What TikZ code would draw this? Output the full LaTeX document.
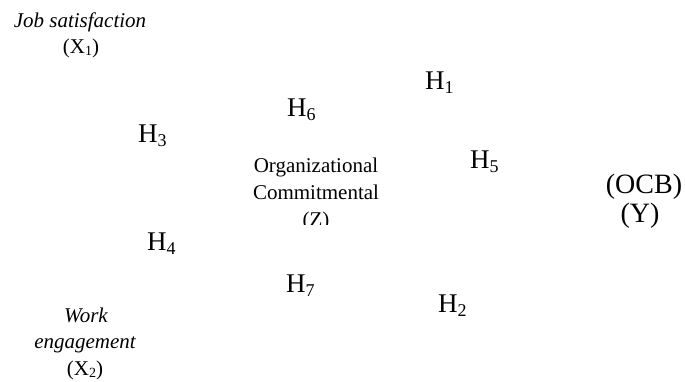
\documentclass[tikz,border=0pt]{standalone}
\usepackage{fontspec}
\setmainfont{Liberation Serif}
\newcommand{\bigsub}[1]{\raisebox{-0.15em}{\fontsize{18}{18}\selectfont #1}}
\newcommand{\smallsub}[1]{\raisebox{-0.12em}{\fontsize{14}{14}\selectfont #1}}
\tikzset{
  hyp/.style={anchor=base west, inner sep=0pt, font=\fontsize{27}{29}\selectfont},
  varsmall/.style={anchor=base, inner sep=0pt, align=center, font=\fontsize{21}{26.5}\selectfont},
  varbig/.style={anchor=base, inner sep=0pt, align=center, font=\fontsize{28}{29}\selectfont},
}
\begin{document}
\begin{tikzpicture}[x=1pt,y=1pt]
  \useasboundingbox (0,0) rectangle (685,-381);

  % exogenous variables
  \node[varsmall] (x1a) at (80,-27) {\itshape Job satisfaction};
  \node[varsmall] (x1b) at (81,-53) {(X\smallsub{1})};
  \node[varsmall] (x2a) at (86,-322) {\itshape Work};
  \node[varsmall] (x2b) at (85,-348) {\itshape engagement};
  \node[varsmall] (x2c) at (85,-375) {(X\smallsub{2})};

  % mediator (its box cuts the last line)
  \node[varsmall] (za) at (316,-172) {Organizational};
  \node[varsmall] (zb) at (316,-199) {Commitmental};
  \begin{scope}
    \clip (230,-150) rectangle (400,-224);
    \node[varsmall] (zc) at (316,-226) {(Z)};
  \end{scope}

  % dependent variable
  \node[varbig] (ya) at (644,-193) {(OCB)};
  \node[varbig] (yb) at (640,-222) {(Y)};

  % hypothesis labels
  \node[hyp] (h1) at (425,-89)  {H\bigsub{1}};
  \node[hyp] (h2) at (438,-312) {H\bigsub{2}};
  \node[hyp] (h3) at (138,-142) {H\bigsub{3}};
  \node[hyp] (h4) at (147,-250) {H\bigsub{4}};
  \node[hyp] (h5) at (470,-168) {H\bigsub{5}};
  \node[hyp] (h6) at (287,-116) {H\bigsub{6}};
  \node[hyp] (h7) at (286,-292) {H\bigsub{7}};
\end{tikzpicture}
\end{document}
